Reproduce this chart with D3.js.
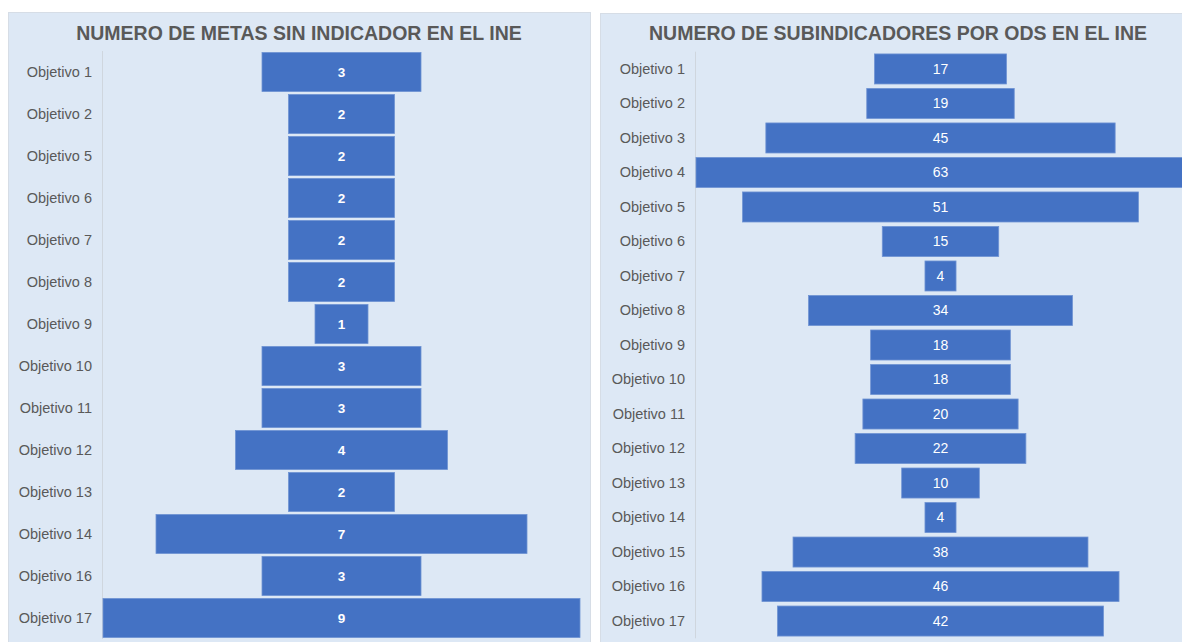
<!DOCTYPE html>
<html>
<head>
<meta charset="utf-8">
<script src="https://cdn.jsdelivr.net/npm/d3@7"></script>
<style>
  html, body { margin: 0; padding: 0; background: #ffffff; }
  svg { display: block; }
</style>
</head>
<body>
<svg id="chart" width="1182" height="642"></svg>
<script>
// ---- Data ----
const leftTitle = "NUMERO DE METAS SIN INDICADOR EN EL INE";
const leftCategories = ["Objetivo 1","Objetivo 2","Objetivo 5","Objetivo 6","Objetivo 7","Objetivo 8","Objetivo 9","Objetivo 10","Objetivo 11","Objetivo 12","Objetivo 13","Objetivo 14","Objetivo 16","Objetivo 17"];
const leftValues = [3,2,2,2,2,2,1,3,3,4,2,7,3,9];

const rightTitle = "NUMERO DE SUBINDICADORES POR ODS EN EL INE";
const rightCategories = ["Objetivo 1","Objetivo 2","Objetivo 3","Objetivo 4","Objetivo 5","Objetivo 6","Objetivo 7","Objetivo 8","Objetivo 9","Objetivo 10","Objetivo 11","Objetivo 12","Objetivo 13","Objetivo 14","Objetivo 15","Objetivo 16","Objetivo 17"];
const rightValues = [17,19,45,63,51,15,4,34,18,18,20,22,10,4,38,46,42];

// ---- Styles ----
const BG = "#dde8f5";
const BAR = "#4472c4";
const TXT = "#595959";

const svg = d3.select("#chart");

function panel(cfg) {
  const g = svg.append("g");
  g.append("rect")
    .attr("x", cfg.px).attr("y", cfg.py)
    .attr("width", cfg.pw).attr("height", cfg.ph)
    .attr("fill", BG).attr("stroke", "#d6dde6").attr("stroke-width", 1);

  g.append("text")
    .attr("x", cfg.titleX).attr("y", cfg.titleY)
    .attr("text-anchor", "middle")
    .attr("font-family", "Liberation Sans, Arial, sans-serif")
    .attr("font-weight", "bold")
    .attr("font-size", cfg.titleSize)
    .attr("fill", TXT)
    .text(cfg.title);

  const y = d3.scaleBand()
    .domain(cfg.categories)
    .range(cfg.yRange)
    .paddingInner(cfg.pad)
    .paddingOuter(cfg.pad / 2);

  const x = d3.scaleLinear()
    .domain([-cfg.half, cfg.half])
    .range(cfg.xRange);

  // axis line
  g.append("line")
    .attr("x1", cfg.axisX).attr("x2", cfg.axisX)
    .attr("y1", cfg.yRange[0]).attr("y2", cfg.yRange[1])
    .attr("stroke", "#cfd6de").attr("stroke-width", 1);

  const data = cfg.categories.map((c, i) => ({ c, v: cfg.values[i] }));

  // category labels via axis
  const axis = d3.axisLeft(y).tickSize(0).tickPadding(0);
  const ag = g.append("g")
    .attr("transform", `translate(${cfg.labelX},0)`)
    .call(axis);
  ag.select(".domain").remove();
  ag.selectAll("text")
    .attr("font-family", "Liberation Sans, Arial, sans-serif")
    .attr("font-size", cfg.labelSize)
    .attr("fill", TXT);

  g.selectAll("rect.bar")
    .data(data)
    .join("rect")
    .attr("class", "bar")
    .attr("x", d => x(-d.v / 2))
    .attr("y", d => y(d.c))
    .attr("width", d => x(d.v / 2) - x(-d.v / 2))
    .attr("height", y.bandwidth())
    .attr("fill", BAR)
    .attr("stroke", "#6f93d3")
    .attr("stroke-width", 0.8);

  g.selectAll("text.val")
    .data(data)
    .join("text")
    .attr("class", "val")
    .attr("x", x(0))
    .attr("y", d => y(d.c) + y.bandwidth() / 2)
    .attr("dy", "0.35em")
    .attr("text-anchor", "middle")
    .attr("font-family", "Liberation Sans, Arial, sans-serif")
    .attr("font-size", cfg.valSize)
    .attr("font-weight", cfg.valWeight)
    .attr("fill", "#ffffff")
    .text(d => d.v);
}

panel({
  px: 8.5, py: 12.5, pw: 582, ph: 640,
  title: leftTitle, titleX: 299, titleY: 40, titleSize: "19.5px",
  categories: leftCategories, values: leftValues,
  yRange: [51, 639], pad: 0.07,
  half: 4.5, xRange: [103, 580],
  axisX: 102.5, labelX: 92, labelSize: "14.5px",
  valSize: "13.5px", valWeight: "bold"
});

panel({
  px: 600.5, py: 13.5, pw: 600, ph: 640,
  title: rightTitle, titleX: 898, titleY: 40, titleSize: "19.5px",
  categories: rightCategories, values: rightValues,
  yRange: [51.7, 638.3], pad: 0.13,
  half: 31.5, xRange: [696, 1185],
  axisX: 695.5, labelX: 685, labelSize: "14.5px",
  valSize: "14px", valWeight: "normal"
});
</script>
</body>
</html>
